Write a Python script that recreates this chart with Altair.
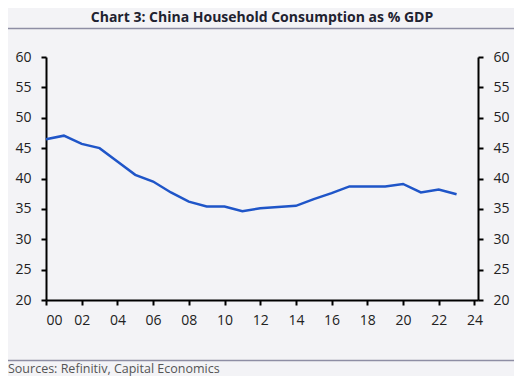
import altair as alt
import pandas as pd

years = list(range(2000, 2024))
share = [46.45, 47.05, 45.7, 45.0, 42.8, 40.6, 39.5, 37.7, 36.2, 35.4, 35.4, 34.6,
         35.1, 35.3, 35.5, 36.6, 37.6, 38.7, 38.7, 38.7, 39.1, 37.7, 38.2, 37.4]
x_ticks = list(range(2000, 2025, 2))
y_ticks = list(range(20, 61, 5))
title_text = "Chart 3: China Household Consumption as % GDP"
source_text = "Sources: Refinitiv, Capital Economics"

df = pd.DataFrame({"year": years, "share": share})
one = pd.DataFrame({"t": [0]})

W, H = 432, 243
PL, PT = 38, 49
TOTW, TOTH = 506, 368

xsc = alt.Scale(domain=[2000, 2024.2], nice=False, zero=False)
xenc = alt.X("year:Q", scale=xsc,
             axis=alt.Axis(values=x_ticks, labelExpr="substring(toString(datum.value), 2)",
                           title=None, grid=False, domainColor="black", domainWidth=2,
                           tickColor="black", tickWidth=2, tickSize=5, labelPadding=8,
                           labelFontSize=14, labelColor="#222222", labelFont="Open Sans"))

ysc = alt.Scale(domain=[20, 60], nice=False, zero=False)

def yaxis(orient):
    return alt.Axis(orient=orient, values=y_ticks, title=None, grid=False,
                    domainColor="black", domainWidth=2, tickColor="black", tickWidth=2,
                    tickSize=5, labelPadding=10, labelFontSize=14, labelColor="#222222",
                    labelFont="Open Sans")

base = alt.Chart(df)
line = base.mark_line(color="#1f55c8", strokeWidth=2.5).encode(
    x=xenc, y=alt.Y("share:Q", scale=ysc, axis=yaxis("left")))
line_r = base.mark_line(opacity=0).encode(
    x=alt.X("year:Q", scale=xsc, axis=None),
    y=alt.Y("share:Q", scale=ysc, axis=yaxis("right")))

ob = alt.Chart(one)
sep_top = ob.mark_rule(color="#8e8ea4", strokeWidth=1.5).encode(
    x=alt.value(-PL), x2=alt.value(TOTW - PL), y=alt.value(-28.5))
sep_bot = ob.mark_rule(color="#8e8ea4", strokeWidth=1.5).encode(
    x=alt.value(-PL), x2=alt.value(TOTW - PL), y=alt.value(303.5))

title_txt = ob.mark_text(text=title_text, font="Open Sans", fontWeight="bold", fontSize=14,
                         color="#1e2230", align="center", baseline="middle").encode(
    x=alt.value(W / 2), y=alt.value(-39.5))
src_txt = ob.mark_text(text=source_text, font="Open Sans", fontSize=12.5, color="#555555",
                       align="left", baseline="bottom").encode(
    x=alt.value(-PL), y=alt.value(TOTH - PT))

chart = alt.layer(line, line_r, sep_top, sep_bot, title_txt, src_txt).resolve_scale(
    y="independent", x="independent"
).properties(
    width=W, height=H,
    autosize=alt.AutoSizeParams(type="none"),
    padding={"left": PL, "top": PT, "right": TOTW - PL - W, "bottom": TOTH - PT - H},
    background="#f3f3f6",
).configure_view(stroke=None)

chart.save("out.html", embed_options={"renderer": "svg", "actions": False})
